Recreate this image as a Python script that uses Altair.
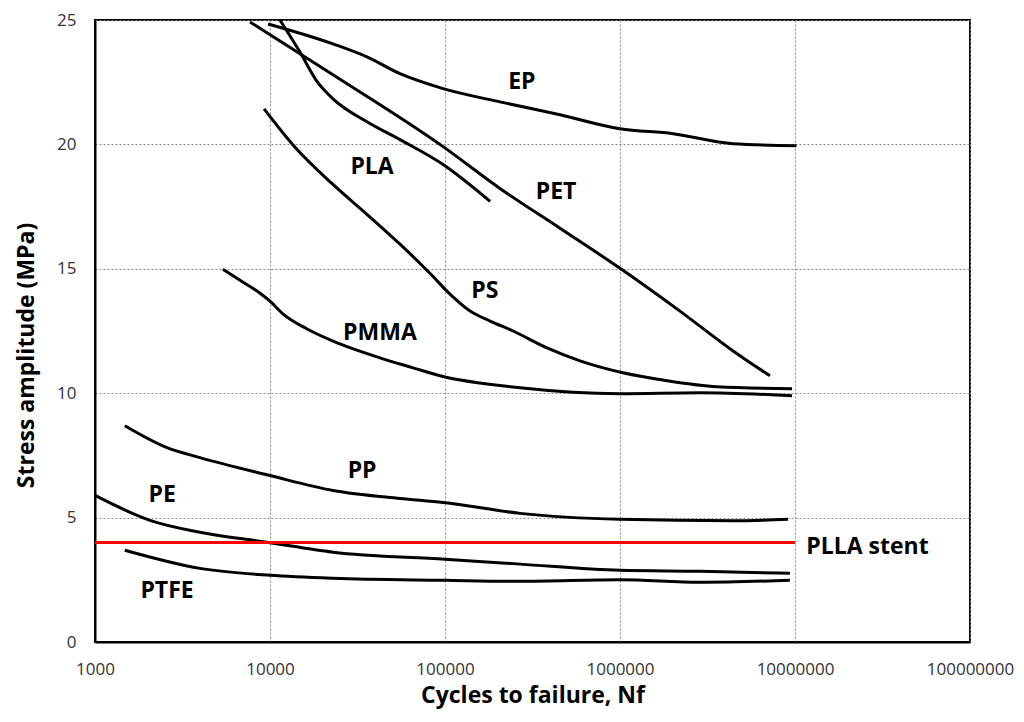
import altair as alt
import pandas as pd

# ---- data ----
EP_x = [9750, 22900, 35800, 55300, 97500, 206000, 454000, 1000000, 2010000, 4430000, 10200000]
EP_y = [24.84, 24.04, 23.52, 22.84, 22.24, 21.71, 21.19, 20.63, 20.43, 20.03, 19.95]

PLA_x = [11400, 14800, 18600, 22900, 35800, 55300, 97500, 181000]
PLA_y = [25.0, 23.72, 22.52, 21.83, 20.91, 20.19, 19.19, 17.71]

PET_x = [7690, 22900, 97500, 206000, 454000, 1000000, 2200000, 4430000, 7190000]
PET_y = [24.92, 22.80, 19.91, 18.23, 16.63, 15.02, 13.30, 11.70, 10.70]

PS_x = [9250, 13500, 22900, 35800, 55300, 82000, 106800, 139000, 181000, 245000, 383000,
        591000, 1040000, 1860000, 3580000, 9620000]
PS_y = [21.43, 19.99, 18.39, 17.19, 15.99, 14.82, 13.98, 13.30, 12.90, 12.50, 11.82,
        11.30, 10.82, 10.50, 10.26, 10.18]

PMMA_x = [5380, 6740, 8770, 10000, 11900, 16300, 25100, 42500, 65600, 93600, 269000,
          1000000, 2860000, 9620000]
PMMA_y = [14.98, 14.54, 14.02, 13.70, 13.18, 12.58, 11.98, 11.42, 11.02, 10.70, 10.22,
          9.98, 10.02, 9.90]

PP_x = [1480, 2580, 3980, 10000, 22900, 55300, 97500, 269000, 1000000, 4430000, 9120000]
PP_y = [8.69, 7.81, 7.41, 6.69, 6.09, 5.77, 5.61, 5.17, 4.93, 4.87, 4.93]

PE_x = [1000, 2060, 3980, 9620, 22900, 100000, 269000, 1000000, 2860000, 9350000]
PE_y = [5.89, 4.89, 4.41, 4.01, 3.61, 3.33, 3.13, 2.88, 2.84, 2.76]

PTFE_x = [1480, 3980, 10000, 22900, 100000, 269000, 1000000, 2860000, 9350000]
PTFE_y = [3.69, 2.96, 2.68, 2.56, 2.48, 2.44, 2.50, 2.40, 2.48]

STENT_x = [1000, 10000000]
STENT_y = [4, 4]

label_text = ["EP", "PLA", "PET", "PS", "PMMA", "PP", "PE", "PTFE"]
label_x = [275000, 38300, 431000, 169000, 42500, 33600, 2420, 2580]
label_y = [22.52, 19.11, 18.07, 14.10, 12.42, 6.89, 5.89, 2.04]

stent_label = ["PLLA stent"]
stent_label_x = [11600000]
stent_label_y = [3.81]

x_ticks = [1000, 10000, 100000, 1000000, 10000000, 100000000]
y_ticks = [0, 5, 10, 15, 20, 25]

# ---- build tables ----
series = {
    "EP": (EP_x, EP_y), "PLA": (PLA_x, PLA_y), "PET": (PET_x, PET_y),
    "PS": (PS_x, PS_y), "PMMA": (PMMA_x, PMMA_y), "PP": (PP_x, PP_y),
    "PE": (PE_x, PE_y), "PTFE": (PTFE_x, PTFE_y),
}
rows = []
for name, (xs, ys) in series.items():
    for i, (a, b) in enumerate(zip(xs, ys)):
        rows.append({"series": name, "N": a, "S": b, "order": i})
curves = pd.DataFrame(rows)
stent = pd.DataFrame({"N": STENT_x, "S": STENT_y, "series": ["PLLA stent"] * 2})
labels = pd.DataFrame({"t": label_text, "N": label_x, "S": label_y})
slabel = pd.DataFrame({"t": stent_label, "N": stent_label_x, "S": stent_label_y})

FONT = "Open Sans"

xscale = alt.Scale(type="log", domain=[1000, 100000000], nice=False)
yscale = alt.Scale(domain=[0, 25], nice=False)

xaxis = alt.Axis(values=x_ticks, format="d", title="Cycles to failure, Nf",
                 grid=True, ticks=False, labelPadding=19,
                 titleY=60, titleBaseline="alphabetic", labelFlush=False)
yaxis = alt.Axis(values=y_ticks, title="Stress amplitude  (MPa)",
                 grid=True, ticks=False, labelPadding=19,
                 titleX=-62, titleY=335, titleBaseline="alphabetic")

lines = alt.Chart(curves).mark_line(color="black", strokeWidth=3,
                                    interpolate="monotone").encode(
    x=alt.X("N:Q", scale=xscale, axis=xaxis),
    y=alt.Y("S:Q", scale=yscale, axis=yaxis),
    detail="series:N",
    order="order:Q",
)

stent_line = alt.Chart(stent).mark_line(color="#ff0000", strokeWidth=3).encode(
    x=alt.X("N:Q", scale=xscale),
    y=alt.Y("S:Q", scale=yscale),
)

text = alt.Chart(labels).mark_text(font=FONT, fontSize=23, fontWeight="bold",
                                   color="black", align="center",
                                   baseline="middle").encode(
    x=alt.X("N:Q", scale=xscale),
    y=alt.Y("S:Q", scale=yscale),
    text="t:N",
)

stext = alt.Chart(slabel).mark_text(font=FONT, fontSize=23, fontWeight="bold",
                                    color="black", align="left",
                                    baseline="middle").encode(
    x=alt.X("N:Q", scale=xscale),
    y=alt.Y("S:Q", scale=yscale),
    text="t:N",
)

chart = alt.layer(lines, stent_line, text, stext).properties(
    width=875, height=622,
    autosize=alt.AutoSizeParams(type="none"),
    padding={"left": 87, "top": 12, "right": 45, "bottom": 70},
).configure_view(
    stroke="black", strokeWidth=2,
).configure_axis(
    labelFont=FONT, labelFontSize=17, labelColor="#333333",
    titleFont=FONT, titleFontSize=23, titleFontWeight="bold", titleColor="black",
    gridColor="#8a8a8a", gridDash=[2, 2], gridWidth=1,
    domainColor="black", domainWidth=2,
)

chart.save("out.html", embed_options={"renderer": "svg", "actions": False})
